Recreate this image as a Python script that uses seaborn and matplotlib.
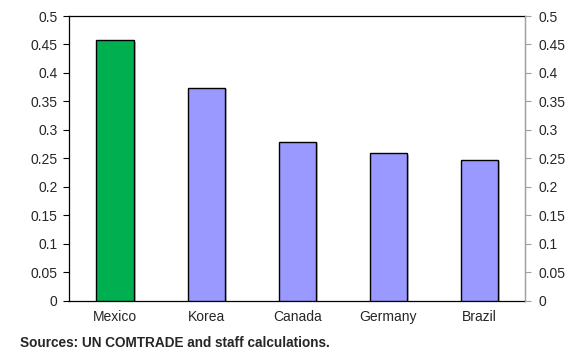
import matplotlib
matplotlib.use("Agg")
import matplotlib.pyplot as plt
import matplotlib.patheffects as pe
import seaborn as sns
import pandas as pd
import numpy as np

countries = ["Mexico", "Korea", "Canada", "Germany", "Brazil"]
values = [0.457, 0.374, 0.279, 0.259, 0.248]
colors = ["#00B050", "#9999FF", "#9999FF", "#9999FF", "#9999FF"]
yticks = [0, 0.05, 0.1, 0.15, 0.2, 0.25, 0.3, 0.35, 0.4, 0.45, 0.5]
ytick_labels = ["0", "0.05", "0.1", "0.15", "0.2", "0.25", "0.3", "0.35", "0.4", "0.45", "0.5"]
source = "Sources: UN COMTRADE and staff calculations."

sns.set_style("white")
plt.rcParams["font.family"] = ["Liberation Sans", "DejaVu Sans"]

df = pd.DataFrame({"country": countries, "value": values})

fig = plt.figure(figsize=(5.79, 3.52), dpi=100)
ax = fig.add_axes([0.12, 0.1457, 0.7867, 0.8088])

sns.barplot(data=df, x="country", y="value", hue="country", palette=colors,
            legend=False, width=0.407, edgecolor="black", linewidth=1.0,
            saturation=1, ax=ax, zorder=3)
for p in ax.patches:
    p.set_path_effects([pe.SimplePatchShadow(offset=(1.5, -1.0), shadow_rgbFace="#808080", alpha=0.5), pe.Normal()])

ax.set_ylim(0, 0.5)
ax.set_xlim(-0.5, len(countries) - 0.5)
ax.set_yticks(yticks)
ax.set_yticklabels(ytick_labels, fontsize=10)
ax.set_xlabel("")
ax.set_ylabel("")
ax.set_xticks(np.arange(len(countries)))
ax.set_xticklabels(countries, fontsize=10)
ax.tick_params(axis="x", length=0, pad=7)
ax.set_xticks(np.arange(len(countries) + 1) - 0.5, minor=True)
ax.tick_params(axis="x", which="minor", length=3, direction="out", color="black", width=0.8)
ax.tick_params(axis="y", length=4, direction="out", color="black", width=0.8, pad=4.5, left=True)

for s in ["left", "bottom", "top"]:
    ax.spines[s].set_visible(True)
    ax.spines[s].set_color("black")
    ax.spines[s].set_linewidth(0.9)
ax.spines["right"].set_visible(True)
ax.spines["right"].set_color("#a0a0a0")
ax.spines["right"].set_linewidth(0.9)

ax2 = ax.twinx()
ax2.set_ylim(0, 0.5)
ax2.set_yticks(yticks)
ax2.set_yticklabels(ytick_labels, fontsize=10)
ax2.tick_params(axis="y", length=4, direction="out", color="#a0a0a0", width=0.8, pad=5.5, right=True)
for s in ["left", "bottom", "top"]:
    ax2.spines[s].set_visible(False)
ax2.spines["right"].set_visible(True)
ax2.spines["right"].set_color("#a0a0a0")
ax2.spines["right"].set_linewidth(0.9)

fig.text(0.034, 0.0256, source, fontsize=9.8, fontweight="bold", ha="left", va="center")

fig.savefig("out.png", dpi=100)
